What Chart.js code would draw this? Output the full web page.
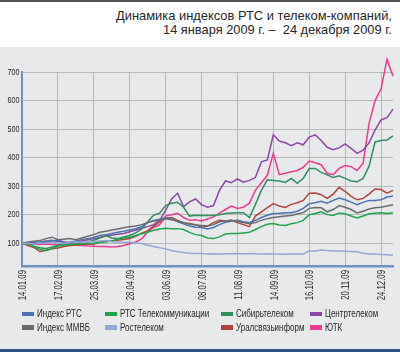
<!DOCTYPE html>
<html>
<head>
<meta charset="utf-8">
<script src="https://cdn.jsdelivr.net/npm/chart.js@4/dist/chart.umd.min.js"></script>
<style>
body { margin: 0; width: 400px; height: 353px; background: #fff; position: relative; overflow: hidden;
       font-family: 'Liberation Sans', Arial, sans-serif; }
#topline { position: absolute; left: 0; top: 0; width: 400px; height: 1.5px; background: #555; }
.tit { position: absolute; right: 8px; font-size: 13.5px; line-height: 14px; color: #262626; white-space: nowrap; transform-origin: right center; }
#panel { position: absolute; left: 0; top: 47px; width: 400px; height: 302px; background: #e8e9eb; }
#bottomline { position: absolute; left: 0; top: 349px; width: 400px; height: 3px; background: #2b5283; }
#wrap { position: absolute; left: 0; top: 0; width: 400px; height: 353px; }
.sw { position: absolute; width: 12px; height: 4.5px; }
.leg { position: absolute; font-size: 10px; line-height: 11px; color: #262626; white-space: nowrap; transform-origin: left center; transform: scaleX(0.8); }
</style>
</head>
<body>
<div id="topline"></div>
<div class="tit" id="tit1" style="top:9px">Динамика индексов РТС и телеком-компаний,</div>
<div class="tit" id="tit2" style="top:23px">14 января 2009 г. –&nbsp; 24 декабря 2009 г.</div>
<div id="panel"></div>
<div id="bottomline"></div>
<div id="wrap"><canvas id="grafico" width="400" height="353"></canvas></div>
<div id="leyenda"></div>
<script>
// --- datos (6 puntos por intervalo entre fechas) ---
const tickDates = ['14.01.09', '17.02.09', '25.03.09', '28.04.09', '03.06.09', '08.07.09', '11.08.09', '14.09.09', '16.10.09', '20.11.09', '24.12.09'];
const pointsPerTick = 6;

const indexRTS = [100, 101, 103, 104, 108, 110, 106, 103, 103, 108,
    112, 116, 120, 127, 130, 134, 138, 142, 146, 151,
    158, 172, 180, 184, 190, 185, 175, 168, 160, 156,
    155, 150, 155, 165, 173, 178, 180, 175, 172, 180,
    190, 198, 204, 205, 207, 207, 212, 222, 238, 242,
    247, 240, 250, 258, 252, 244, 235, 243, 250, 250,
    252, 262, 265];
const indexMMVB = [100, 104, 107, 109, 116, 121, 112, 114, 116, 112,
    118, 124, 130, 138, 142, 146, 150, 154, 158, 160,
    165, 172, 178, 180, 186, 182, 178, 172, 166, 164,
    162, 160, 165, 175, 178, 180, 176, 172, 168, 172,
    180, 186, 190, 193, 195, 197, 202, 207, 222, 225,
    224, 210, 218, 232, 226, 218, 206, 212, 220, 224,
    226, 230, 235];
const rtsTelecom = [100, 96, 88, 78, 74, 80, 90, 93, 95, 97,
    98, 99, 100, 102, 104, 108, 114, 118, 121, 127,
    133, 138, 145, 150, 152, 151, 151, 148, 138, 130,
    127, 118, 116, 122, 132, 134, 134, 136, 138, 148,
    158, 166, 169, 164, 162, 168, 172, 180, 200, 204,
    210, 200, 197, 206, 203, 195, 188, 195, 203, 205,
    207, 204, 207];
const rostelecom = [100, 99, 97, 100, 101, 103, 101, 99, 102, 104,
    103, 104, 106, 108, 109, 105, 104, 103, 103, 101,
    99, 93, 88, 84, 80, 74, 70, 67, 65, 64,
    64, 62, 63, 62, 63, 63, 64, 62, 64, 63,
    62, 63, 62, 62, 61, 62, 62, 62, 73, 73,
    76, 74, 73, 73, 72, 71, 70, 65, 62, 62,
    60, 59, 58];
const sibirtelecom = [100, 94, 88, 84, 81, 86, 93, 95, 95, 97,
    100, 104, 110, 118, 127, 118, 116, 122, 127, 136,
    150, 175, 198, 205, 232, 240, 243, 226, 195, 198,
    197, 197, 197, 200, 204, 206, 207, 207, 190, 235,
    285, 322, 320, 318, 313, 327, 310, 327, 362, 362,
    348, 340, 330, 336, 327, 318, 315, 327, 370, 455,
    460, 462, 476];
const uralsvyaz = [100, 92, 85, 70, 75, 80, 83, 88, 92, 93,
    95, 96, 97, 103, 107, 108, 110, 113, 116, 124,
    135, 144, 160, 175, 187, 190, 180, 172, 169, 165,
    156, 160, 172, 180, 178, 180, 172, 165, 158, 195,
    210, 225, 239, 230, 225, 236, 242, 250, 275, 276,
    270, 257, 272, 296, 282, 264, 252, 257, 272, 290,
    288, 275, 285];
const centrtelecom = [100, 97, 95, 99, 104, 108, 110, 104, 99, 102,
    108, 112, 116, 120, 125, 128, 131, 134, 140, 146,
    152, 158, 165, 180, 215, 255, 275, 228, 245, 255,
    235, 226, 232, 285, 318, 312, 325, 314, 320, 330,
    385, 392, 480, 458, 452, 442, 452, 445, 472, 480,
    460, 436, 428, 434, 448, 432, 415, 426, 452, 496,
    532, 540, 570];
const utk = [100, 98, 96, 95, 97, 95, 94, 96, 95, 93,
    92, 90, 89, 88, 88, 87, 88, 92, 98, 104,
    115, 140, 155, 165, 195, 200, 205, 190, 180, 182,
    178, 185, 192, 205, 218, 230, 222, 226, 240, 285,
    312, 338, 415, 340, 345, 350, 355, 366, 388, 382,
    375, 345, 340, 362, 372, 368, 355, 380, 520, 600,
    640, 745, 685];

const seriesNames = ['Индекс РТС', 'Индекс ММВБ', 'РТС Телекоммуникации', 'Ростелеком', 'Сибирьтелеком', 'Уралсвязьинформ', 'Центртелеком', 'ЮТК'];
const seriesData = [indexRTS, indexMMVB, rtsTelecom, rostelecom, sibirtelecom, uralsvyaz, centrtelecom, utk];
const seriesColors = ['#4a72b4', '#6a6b6d', '#1ea64b', '#93a8d6', '#2f8f5f', '#b1443b', '#8c46a7', '#ec3b8f'];
const drawOrder = [3, 2, 1, 0, 5, 4, 6, 7];

const yTicks = [100, 200, 300, 400, 500, 600, 700];

// etiquetas del eje x: una por punto, solo se muestran las fechas
let etiquetas = [];
for (let i = 0; i < indexRTS.length; i++) {
    etiquetas.push(i % pointsPerTick === 0 ? tickDates[i / pointsPerTick] : '');
}

const datasets = drawOrder.map(k => ({
    label: seriesNames[k],
    data: seriesData[k],
    borderColor: seriesColors[k],
    backgroundColor: seriesColors[k],
    borderWidth: 1.5,
    pointRadius: 0,
    tension: 0,
    clip: false
}));

// --- etiquetas de los ejes, en letra estrecha ---
const etiquetasEjes = {
    id: 'etiquetasEjes',
    afterDraw(chart) {
        const ctx = chart.ctx;
        const xs = chart.scales.x, ys = chart.scales.y;
        ctx.save();
        ctx.fillStyle = '#262626';
        ctx.font = '10px "Liberation Sans", Arial, sans-serif';
        ctx.textAlign = 'right';
        ctx.textBaseline = 'middle';
        tickDates.forEach((d, k) => {
            ctx.save();
            ctx.translate(xs.getPixelForValue(k * pointsPerTick) + 1.5, xs.top + 4);
            ctx.rotate(-Math.PI / 2);
            ctx.scale(0.78, 1);
            ctx.fillText(d, 0, 0);
            ctx.restore();
        });
        ctx.font = '9.5px "Liberation Sans", Arial, sans-serif';
        yTicks.forEach(v => {
            ctx.save();
            ctx.translate(19.5, ys.getPixelForValue(v));
            ctx.scale(0.76, 1);
            ctx.fillText(String(v), 0, 0);
            ctx.restore();
        });
        ctx.restore();
    }
};

new Chart(document.getElementById('grafico'), {
    type: 'line',
    data: { labels: etiquetas, datasets: datasets },
    options: {
        responsive: false,
        animation: false,
        layout: { padding: { top: 72, left: 0, right: 7, bottom: 47 } },
        plugins: { legend: { display: false }, tooltip: { enabled: false } },
        scales: {
            x: {
                grid: { color: '#b5b7ba', lineWidth: 1, drawTicks: false },
                border: { color: '#7190c6', width: 2.5 },
                ticks: {
                    autoSkip: false, maxRotation: 0, color: 'rgba(0,0,0,0)', font: { size: 8 },
                    callback: function(value, index) { return index % pointsPerTick === 0 ? etiquetas[index] : null; }
                },
                afterFit: function(scale) { scale.height = 40; scale.paddingLeft = 0; scale.paddingRight = 0; }
            },
            y: {
                min: 20, max: 700,
                grid: { color: '#b5b7ba', lineWidth: 1, drawTicks: false },
                border: { color: '#7190c6', width: 2 },
                ticks: {
                    stepSize: 100, color: 'rgba(0,0,0,0)', font: { size: 8 },
                    callback: function(value) { return yTicks.includes(value) ? value : null; }
                },
                afterFit: function(scale) { scale.width = 22; }
            }
        }
    },
    plugins: [etiquetasEjes]
});

// --- titulo ajustado al ancho del original ---
[['tit1', 276], ['tit2', 229]].forEach(([id, ancho]) => {
    const el = document.getElementById(id);
    el.style.transform = 'scaleX(' + (ancho / el.offsetWidth) + ')';
});

// --- leyenda en 4 columnas, 2 filas ---
const legX = [22, 105, 221, 310];
const legY = [311.5, 325];
const leyenda = document.getElementById('leyenda');
seriesNames.forEach((nombre, k) => {
    const x = legX[Math.floor(k / 2)], y = legY[k % 2];
    let sw = document.createElement('div');
    sw.className = 'sw';
    sw.style.left = x + 'px';
    sw.style.top = y + 'px';
    sw.style.background = seriesColors[k];
    leyenda.appendChild(sw);
    let el = document.createElement('div');
    el.className = 'leg';
    el.style.left = (x + 15) + 'px';
    el.style.top = (y - 3.5) + 'px';
    el.textContent = nombre;
    leyenda.appendChild(el);
});
</script>
</body>
</html>
